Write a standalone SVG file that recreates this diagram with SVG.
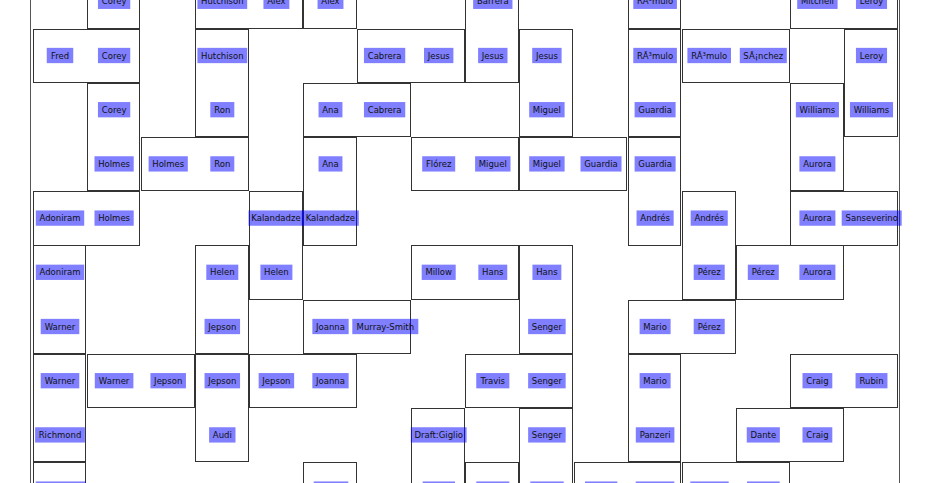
<svg xmlns="http://www.w3.org/2000/svg" width="933" height="483" viewBox="0 0 933 483">
<style>
.box{fill:none;stroke:#333;stroke-width:1;shape-rendering:crispEdges}
.frame{fill:none;stroke:#555;stroke-width:1;shape-rendering:crispEdges}
.lb{fill:#0000ff;fill-opacity:.5}
.tx{font-family:"DejaVu Sans",sans-serif;font-size:8.5px;fill:#111;text-anchor:middle}
</style>
<rect x="0" y="0" width="933" height="483" fill="#fff"/>
<rect class="frame" x="30.5" y="-20" width="869" height="530"/>
<g id="dominoes">
<g id="d01"><rect class="box" x="87.1" y="-79.4" width="52.8" height="107.6"/></g>
<g id="d02"><rect class="box" x="195.3" y="-25.2" width="106.9" height="53.4"/></g>
<g id="d03"><rect class="box" x="303.5" y="-79.4" width="52.8" height="107.6"/></g>
<g id="d04"><rect class="box" x="465.8" y="-25.2" width="52.8" height="107.6"/></g>
<g id="d05"><rect class="box" x="628.1" y="-79.4" width="52.8" height="107.6"/></g>
<g id="d06"><rect class="box" x="790.4" y="-25.2" width="106.9" height="53.4"/></g>
<g id="d07"><rect class="box" x="33" y="29" width="106.9" height="53.4"/></g>
<g id="d08"><rect class="box" x="195.3" y="29" width="52.8" height="107.6"/></g>
<g id="d09"><rect class="box" x="357.6" y="29" width="106.9" height="53.4"/></g>
<g id="d10"><rect class="box" x="519.9" y="29" width="52.8" height="107.6"/></g>
<g id="d11"><rect class="box" x="628.1" y="29" width="52.8" height="107.6"/></g>
<g id="d12"><rect class="box" x="682.2" y="29" width="106.9" height="53.4"/></g>
<g id="d13"><rect class="box" x="844.5" y="29" width="52.8" height="107.6"/></g>
<g id="d14"><rect class="box" x="87.1" y="83.2" width="52.8" height="107.6"/></g>
<g id="d15"><rect class="box" x="303.5" y="83.2" width="106.9" height="53.4"/></g>
<g id="d16"><rect class="box" x="790.4" y="83.2" width="52.8" height="107.6"/></g>
<g id="d17"><rect class="box" x="141.2" y="137.4" width="106.9" height="53.4"/></g>
<g id="d18"><rect class="box" x="303.5" y="137.4" width="52.8" height="107.6"/></g>
<g id="d19"><rect class="box" x="411.7" y="137.4" width="106.9" height="53.4"/></g>
<g id="d20"><rect class="box" x="519.9" y="137.4" width="106.9" height="53.4"/></g>
<g id="d21"><rect class="box" x="628.1" y="137.4" width="52.8" height="107.6"/></g>
<g id="d22"><rect class="box" x="33" y="191.6" width="106.9" height="53.4"/></g>
<g id="d23"><rect class="box" x="249.4" y="191.6" width="52.8" height="107.6"/></g>
<g id="d24"><rect class="box" x="682.2" y="191.6" width="52.8" height="107.6"/></g>
<g id="d25"><rect class="box" x="790.4" y="191.6" width="106.9" height="53.4"/></g>
<g id="d26"><rect class="box" x="33" y="245.8" width="52.8" height="107.6"/></g>
<g id="d27"><rect class="box" x="195.3" y="245.8" width="52.8" height="107.6"/></g>
<g id="d28"><rect class="box" x="411.7" y="245.8" width="106.9" height="53.4"/></g>
<g id="d29"><rect class="box" x="519.9" y="245.8" width="52.8" height="107.6"/></g>
<g id="d30"><rect class="box" x="736.3" y="245.8" width="106.9" height="53.4"/></g>
<g id="d31"><rect class="box" x="303.5" y="300" width="106.9" height="53.4"/></g>
<g id="d32"><rect class="box" x="628.1" y="300" width="106.9" height="53.4"/></g>
<g id="d33"><rect class="box" x="33" y="354.2" width="52.8" height="107.6"/></g>
<g id="d34"><rect class="box" x="87.1" y="354.2" width="106.9" height="53.4"/></g>
<g id="d35"><rect class="box" x="195.3" y="354.2" width="52.8" height="107.6"/></g>
<g id="d36"><rect class="box" x="249.4" y="354.2" width="106.9" height="53.4"/></g>
<g id="d37"><rect class="box" x="465.8" y="354.2" width="106.9" height="53.4"/></g>
<g id="d38"><rect class="box" x="628.1" y="354.2" width="52.8" height="107.6"/></g>
<g id="d39"><rect class="box" x="790.4" y="354.2" width="106.9" height="53.4"/></g>
<g id="d40"><rect class="box" x="411.7" y="408.4" width="52.8" height="107.6"/></g>
<g id="d41"><rect class="box" x="519.9" y="408.4" width="52.8" height="107.6"/></g>
<g id="d42"><rect class="box" x="736.3" y="408.4" width="106.9" height="53.4"/></g>
<g id="d43"><rect class="box" x="33" y="462.6" width="52.8" height="107.6"/></g>
<g id="d44"><rect class="box" x="303.5" y="462.6" width="52.8" height="107.6"/></g>
<g id="d45"><rect class="box" x="465.8" y="462.6" width="52.8" height="107.6"/></g>
<g id="d46"><rect class="box" x="574" y="462.6" width="106.9" height="53.4"/></g>
<g id="d47"><rect class="box" x="682.2" y="462.6" width="106.9" height="53.4"/></g>
</g>
<g id="labels">
<g transform="translate(114.1,1.3)"><rect class="lb" x="-16.15" y="-7.65" width="32.3" height="15.3"/><text class="tx" y="3">Corey</text></g>
<g transform="translate(222.3,1.3)"><rect class="lb" x="-24.9" y="-7.65" width="49.8" height="15.3"/><text class="tx" y="3">Hutchison</text></g>
<g transform="translate(276.4,1.3)"><rect class="lb" x="-12.95" y="-7.65" width="25.9" height="15.3"/><text class="tx" y="3">Alex</text></g>
<g transform="translate(330.5,1.3)"><rect class="lb" x="-12.95" y="-7.65" width="25.9" height="15.3"/><text class="tx" y="3">Alex</text></g>
<g transform="translate(492.8,1.3)"><rect class="lb" x="-19.65" y="-7.65" width="39.3" height="15.3"/><text class="tx" y="3">Barrera</text></g>
<g transform="translate(655.1,1.3)"><rect class="lb" x="-21.8" y="-7.65" width="43.6" height="15.3"/><text class="tx" y="3">RÃ³mulo</text></g>
<g transform="translate(817.4,1.3)"><rect class="lb" x="-20.2" y="-7.65" width="40.4" height="15.3"/><text class="tx" y="3">Mitchell</text></g>
<g transform="translate(871.5,1.3)"><rect class="lb" x="-15.55" y="-7.65" width="31.1" height="15.3"/><text class="tx" y="3">Leroy</text></g>

<g transform="translate(60,55.5)"><rect class="lb" x="-13.25" y="-7.65" width="26.5" height="15.3"/><text class="tx" y="3">Fred</text></g>
<g transform="translate(114.1,55.5)"><rect class="lb" x="-16.15" y="-7.65" width="32.3" height="15.3"/><text class="tx" y="3">Corey</text></g>
<g transform="translate(222.3,55.5)"><rect class="lb" x="-24.9" y="-7.65" width="49.8" height="15.3"/><text class="tx" y="3">Hutchison</text></g>
<g transform="translate(384.6,55.5)"><rect class="lb" x="-20.65" y="-7.65" width="41.3" height="15.3"/><text class="tx" y="3">Cabrera</text></g>
<g transform="translate(438.7,55.5)"><rect class="lb" x="-14.7" y="-7.65" width="29.4" height="15.3"/><text class="tx" y="3">Jesus</text></g>
<g transform="translate(492.8,55.5)"><rect class="lb" x="-14.7" y="-7.65" width="29.4" height="15.3"/><text class="tx" y="3">Jesus</text></g>
<g transform="translate(546.9,55.5)"><rect class="lb" x="-14.7" y="-7.65" width="29.4" height="15.3"/><text class="tx" y="3">Jesus</text></g>
<g transform="translate(655.1,55.5)"><rect class="lb" x="-21.8" y="-7.65" width="43.6" height="15.3"/><text class="tx" y="3">RÃ³mulo</text></g>
<g transform="translate(709.2,55.5)"><rect class="lb" x="-21.8" y="-7.65" width="43.6" height="15.3"/><text class="tx" y="3">RÃ³mulo</text></g>
<g transform="translate(763.3,55.5)"><rect class="lb" x="-23.5" y="-7.65" width="47" height="15.3"/><text class="tx" y="3">SÃ¡nchez</text></g>
<g transform="translate(871.5,55.5)"><rect class="lb" x="-15.55" y="-7.65" width="31.1" height="15.3"/><text class="tx" y="3">Leroy</text></g>

<g transform="translate(114.1,109.7)"><rect class="lb" x="-16.15" y="-7.65" width="32.3" height="15.3"/><text class="tx" y="3">Corey</text></g>
<g transform="translate(222.3,109.7)"><rect class="lb" x="-12" y="-7.65" width="24" height="15.3"/><text class="tx" y="3">Ron</text></g>
<g transform="translate(330.5,109.7)"><rect class="lb" x="-11.95" y="-7.65" width="23.9" height="15.3"/><text class="tx" y="3">Ana</text></g>
<g transform="translate(384.6,109.7)"><rect class="lb" x="-20.65" y="-7.65" width="41.3" height="15.3"/><text class="tx" y="3">Cabrera</text></g>
<g transform="translate(546.9,109.7)"><rect class="lb" x="-17.7" y="-7.65" width="35.4" height="15.3"/><text class="tx" y="3">Miguel</text></g>
<g transform="translate(655.1,109.7)"><rect class="lb" x="-20.5" y="-7.65" width="41" height="15.3"/><text class="tx" y="3">Guardia</text></g>
<g transform="translate(817.4,109.7)"><rect class="lb" x="-21.55" y="-7.65" width="43.1" height="15.3"/><text class="tx" y="3">Williams</text></g>
<g transform="translate(871.5,109.7)"><rect class="lb" x="-21.55" y="-7.65" width="43.1" height="15.3"/><text class="tx" y="3">Williams</text></g>

<g transform="translate(114.1,163.9)"><rect class="lb" x="-19.6" y="-7.65" width="39.2" height="15.3"/><text class="tx" y="3">Holmes</text></g>
<g transform="translate(168.2,163.9)"><rect class="lb" x="-19.6" y="-7.65" width="39.2" height="15.3"/><text class="tx" y="3">Holmes</text></g>
<g transform="translate(222.3,163.9)"><rect class="lb" x="-12" y="-7.65" width="24" height="15.3"/><text class="tx" y="3">Ron</text></g>
<g transform="translate(330.5,163.9)"><rect class="lb" x="-11.95" y="-7.65" width="23.9" height="15.3"/><text class="tx" y="3">Ana</text></g>
<g transform="translate(438.7,163.9)"><rect class="lb" x="-16.5" y="-7.65" width="33" height="15.3"/><text class="tx" y="3">Flórez</text></g>
<g transform="translate(492.8,163.9)"><rect class="lb" x="-17.7" y="-7.65" width="35.4" height="15.3"/><text class="tx" y="3">Miguel</text></g>
<g transform="translate(546.9,163.9)"><rect class="lb" x="-17.7" y="-7.65" width="35.4" height="15.3"/><text class="tx" y="3">Miguel</text></g>
<g transform="translate(601,163.9)"><rect class="lb" x="-20.5" y="-7.65" width="41" height="15.3"/><text class="tx" y="3">Guardia</text></g>
<g transform="translate(655.1,163.9)"><rect class="lb" x="-20.5" y="-7.65" width="41" height="15.3"/><text class="tx" y="3">Guardia</text></g>
<g transform="translate(817.4,163.9)"><rect class="lb" x="-18" y="-7.65" width="36" height="15.3"/><text class="tx" y="3">Aurora</text></g>

<g transform="translate(60,218.1)"><rect class="lb" x="-24.2" y="-7.65" width="48.4" height="15.3"/><text class="tx" y="3">Adoniram</text></g>
<g transform="translate(114.1,218.1)"><rect class="lb" x="-19.6" y="-7.65" width="39.2" height="15.3"/><text class="tx" y="3">Holmes</text></g>
<g transform="translate(276,218.1)"><rect class="lb" x="-27.5" y="-7.65" width="55" height="15.3"/><text class="tx" y="3">Kalandadze</text></g>
<g transform="translate(330.3,218.1)"><rect class="lb" x="-28.5" y="-7.65" width="57" height="15.3"/><text class="tx" y="3">Kalandadze</text></g>
<g transform="translate(655.1,218.1)"><rect class="lb" x="-18.55" y="-7.65" width="37.1" height="15.3"/><text class="tx" y="3">Andrés</text></g>
<g transform="translate(709.2,218.1)"><rect class="lb" x="-18.55" y="-7.65" width="37.1" height="15.3"/><text class="tx" y="3">Andrés</text></g>
<g transform="translate(817.4,218.1)"><rect class="lb" x="-18" y="-7.65" width="36" height="15.3"/><text class="tx" y="3">Aurora</text></g>
<g transform="translate(871.7,218.1)"><rect class="lb" x="-30" y="-7.65" width="60" height="15.3"/><text class="tx" y="3">Sanseverino</text></g>

<g transform="translate(60,272.3)"><rect class="lb" x="-24.2" y="-7.65" width="48.4" height="15.3"/><text class="tx" y="3">Adoniram</text></g>
<g transform="translate(222.3,272.3)"><rect class="lb" x="-16" y="-7.65" width="32" height="15.3"/><text class="tx" y="3">Helen</text></g>
<g transform="translate(276.4,272.3)"><rect class="lb" x="-16" y="-7.65" width="32" height="15.3"/><text class="tx" y="3">Helen</text></g>
<g transform="translate(438.7,272.3)"><rect class="lb" x="-17" y="-7.65" width="34" height="15.3"/><text class="tx" y="3">Millow</text></g>
<g transform="translate(492.8,272.3)"><rect class="lb" x="-14.45" y="-7.65" width="28.9" height="15.3"/><text class="tx" y="3">Hans</text></g>
<g transform="translate(546.9,272.3)"><rect class="lb" x="-14.45" y="-7.65" width="28.9" height="15.3"/><text class="tx" y="3">Hans</text></g>
<g transform="translate(709.2,272.3)"><rect class="lb" x="-15.5" y="-7.65" width="31" height="15.3"/><text class="tx" y="3">Pérez</text></g>
<g transform="translate(763.3,272.3)"><rect class="lb" x="-15.5" y="-7.65" width="31" height="15.3"/><text class="tx" y="3">Pérez</text></g>
<g transform="translate(817.4,272.3)"><rect class="lb" x="-18" y="-7.65" width="36" height="15.3"/><text class="tx" y="3">Aurora</text></g>

<g transform="translate(60,326.5)"><rect class="lb" x="-19.3" y="-7.65" width="38.6" height="15.3"/><text class="tx" y="3">Warner</text></g>
<g transform="translate(222.3,326.5)"><rect class="lb" x="-17.75" y="-7.65" width="35.5" height="15.3"/><text class="tx" y="3">Jepson</text></g>
<g transform="translate(330.5,326.5)"><rect class="lb" x="-18.15" y="-7.65" width="36.3" height="15.3"/><text class="tx" y="3">Joanna</text></g>
<g transform="translate(385.3,326.5)"><rect class="lb" x="-33" y="-7.65" width="66" height="15.3"/><text class="tx" y="3">Murray-Smith</text></g>
<g transform="translate(546.9,326.5)"><rect class="lb" x="-18.75" y="-7.65" width="37.5" height="15.3"/><text class="tx" y="3">Senger</text></g>
<g transform="translate(655.1,326.5)"><rect class="lb" x="-15.5" y="-7.65" width="31" height="15.3"/><text class="tx" y="3">Mario</text></g>
<g transform="translate(709.2,326.5)"><rect class="lb" x="-15.5" y="-7.65" width="31" height="15.3"/><text class="tx" y="3">Pérez</text></g>

<g transform="translate(60,380.7)"><rect class="lb" x="-19.3" y="-7.65" width="38.6" height="15.3"/><text class="tx" y="3">Warner</text></g>
<g transform="translate(114.1,380.7)"><rect class="lb" x="-19.3" y="-7.65" width="38.6" height="15.3"/><text class="tx" y="3">Warner</text></g>
<g transform="translate(168.2,380.7)"><rect class="lb" x="-17.75" y="-7.65" width="35.5" height="15.3"/><text class="tx" y="3">Jepson</text></g>
<g transform="translate(222.3,380.7)"><rect class="lb" x="-17.75" y="-7.65" width="35.5" height="15.3"/><text class="tx" y="3">Jepson</text></g>
<g transform="translate(276.4,380.7)"><rect class="lb" x="-17.75" y="-7.65" width="35.5" height="15.3"/><text class="tx" y="3">Jepson</text></g>
<g transform="translate(330.5,380.7)"><rect class="lb" x="-18.15" y="-7.65" width="36.3" height="15.3"/><text class="tx" y="3">Joanna</text></g>
<g transform="translate(492.8,380.7)"><rect class="lb" x="-16.55" y="-7.65" width="33.1" height="15.3"/><text class="tx" y="3">Travis</text></g>
<g transform="translate(546.9,380.7)"><rect class="lb" x="-18.75" y="-7.65" width="37.5" height="15.3"/><text class="tx" y="3">Senger</text></g>
<g transform="translate(655.1,380.7)"><rect class="lb" x="-15.5" y="-7.65" width="31" height="15.3"/><text class="tx" y="3">Mario</text></g>
<g transform="translate(817.4,380.7)"><rect class="lb" x="-14.9" y="-7.65" width="29.8" height="15.3"/><text class="tx" y="3">Craig</text></g>
<g transform="translate(871.5,380.7)"><rect class="lb" x="-15.95" y="-7.65" width="31.9" height="15.3"/><text class="tx" y="3">Rubin</text></g>

<g transform="translate(60,434.9)"><rect class="lb" x="-24.9" y="-7.65" width="49.8" height="15.3"/><text class="tx" y="3">Richmond</text></g>
<g transform="translate(222.3,434.9)"><rect class="lb" x="-13.2" y="-7.65" width="26.4" height="15.3"/><text class="tx" y="3">Audi</text></g>
<g transform="translate(438.7,434.9)"><rect class="lb" x="-27.9" y="-7.65" width="55.8" height="15.3"/><text class="tx" y="3">Draft:Giglio</text></g>
<g transform="translate(546.9,434.9)"><rect class="lb" x="-18.75" y="-7.65" width="37.5" height="15.3"/><text class="tx" y="3">Senger</text></g>
<g transform="translate(655.1,434.9)"><rect class="lb" x="-19.3" y="-7.65" width="38.6" height="15.3"/><text class="tx" y="3">Panzeri</text></g>
<g transform="translate(763.3,434.9)"><rect class="lb" x="-16.55" y="-7.65" width="33.1" height="15.3"/><text class="tx" y="3">Dante</text></g>
<g transform="translate(817.4,434.9)"><rect class="lb" x="-14.9" y="-7.65" width="29.8" height="15.3"/><text class="tx" y="3">Craig</text></g>

<rect class="lb" x="35.7" y="481.45" width="50" height="15.3"/>
<rect class="lb" x="313.7" y="481.45" width="34.6" height="15.3"/>
<rect class="lb" x="422.7" y="481.45" width="32.3" height="15.3"/>
<rect class="lb" x="476.3" y="481.45" width="33" height="15.3"/>
<rect class="lb" x="530.3" y="481.45" width="33.4" height="15.3"/>
<rect class="lb" x="585" y="481.45" width="32.3" height="15.3"/>
<rect class="lb" x="635.7" y="481.45" width="38.6" height="15.3"/>
<rect class="lb" x="690.3" y="481.45" width="38.4" height="15.3"/>
<rect class="lb" x="747" y="481.45" width="32.7" height="15.3"/>
</g>
</svg>
